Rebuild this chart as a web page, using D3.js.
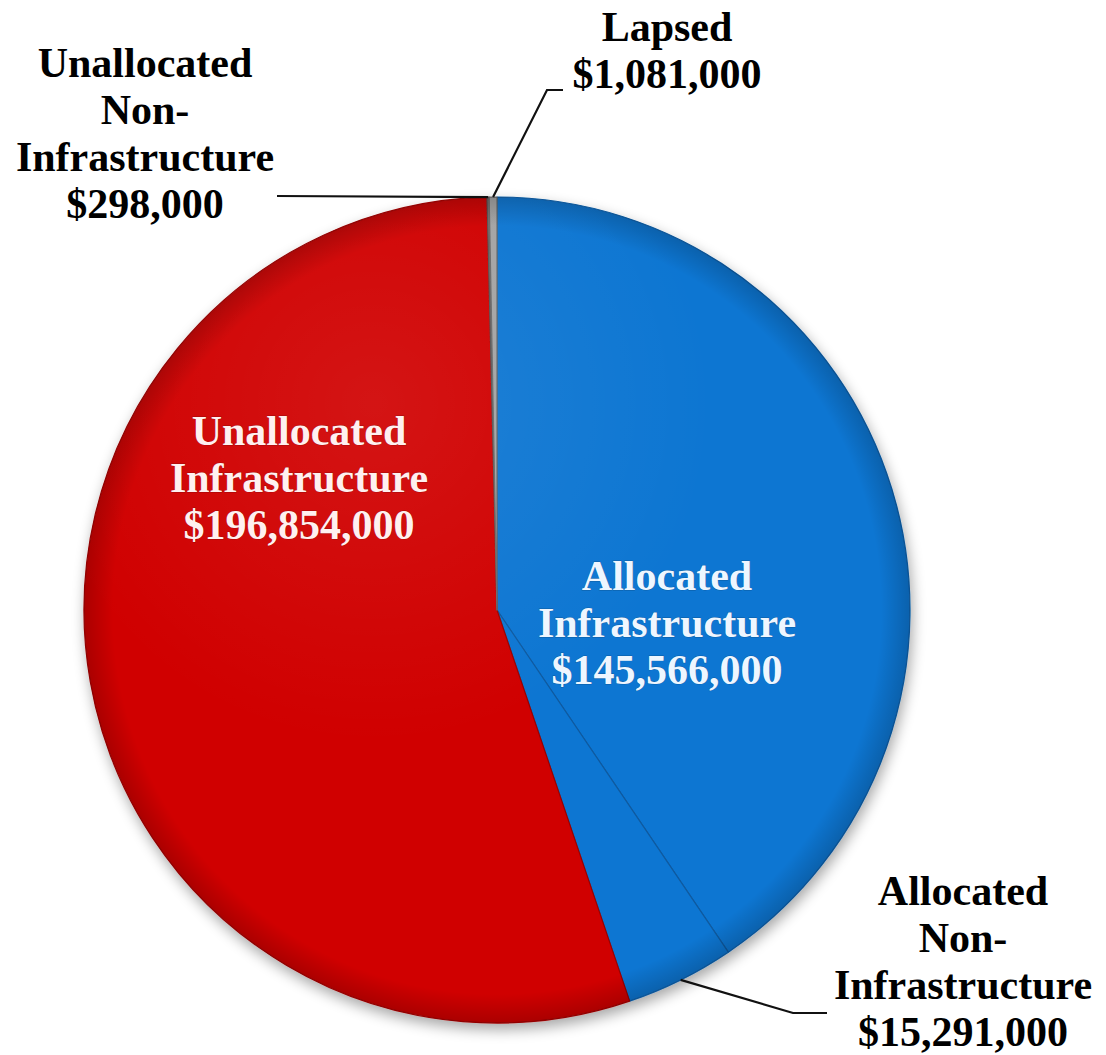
<!DOCTYPE html>
<html>
<head>
<meta charset="utf-8">
<script src="https://cdn.jsdelivr.net/npm/d3@7"></script>
<style>
  html, body { margin: 0; padding: 0; background: #ffffff; }
  svg { display: block; }
  text { font-family: "Liberation Serif", "Times New Roman", serif; font-weight: bold; }
</style>
</head>
<body>
<svg id="chart" width="1106" height="1055"></svg>
<script>
// Funding status, clockwise from 12 o'clock
const categories = [
  "Allocated Infrastructure",
  "Allocated Non-Infrastructure",
  "Unallocated Infrastructure",
  "Unallocated Non-Infrastructure",
  "Lapsed"
];
const labelLines = [
  ["Allocated", "Infrastructure"],
  ["Allocated", "Non-", "Infrastructure"],
  ["Unallocated", "Infrastructure"],
  ["Unallocated", "Non-", "Infrastructure"],
  ["Lapsed"]
];
const amounts = [145566000, 15291000, 196854000, 298000, 1081000];

// Slice fills
const sliceColors = ["#0c76d2", "#0c76d2", "#d00000", "#7a6f6f", "#a3a3a3"];
const sliceEdges  = ["#0a5aa0", "#0a5aa0", "#9c0000", "#555555", "#6a6a6a"];

const cx = 497, cy = 610, R = 413;
const fontSize = 42, lineH = 47;

// Label placement: inside labels for big slices, leader-line callouts for small ones
const labelLayout = [
  { x: 667, y: 590, fill: "#eef6ff", inside: true },
  { x: 963, y: 905, fill: "#000", leader: [[793, 1013], [827, 1013]] },
  { x: 299, y: 445, fill: "#fff0f0", inside: true },
  { x: 145, y: 77,  fill: "#000", leader: [[277, 196]] },
  { x: 667, y: 41,  fill: "#000", leader: [[547, 90], [563, 90]] }
];

const fmt = d3.format(",");
const svg = d3.select("#chart");
const defs = svg.append("defs");

// soft drop shadow under the pie
const sh = defs.append("filter").attr("id", "shadow")
  .attr("x", "-10%").attr("y", "-10%").attr("width", "120%").attr("height", "125%");
sh.append("feGaussianBlur").attr("in", "SourceAlpha").attr("stdDeviation", 7).attr("result", "b");
sh.append("feOffset").attr("in", "b").attr("dx", 2).attr("dy", 6).attr("result", "o");
sh.append("feComponentTransfer").attr("in", "o").attr("result", "s")
  .append("feFuncA").attr("type", "linear").attr("slope", 0.35);
const m = sh.append("feMerge");
m.append("feMergeNode").attr("in", "s");
m.append("feMergeNode").attr("in", "SourceGraphic");

// glossy highlight toward the upper-left
const hl = defs.append("radialGradient").attr("id", "hilite")
  .attr("cx", "35%").attr("cy", "25%").attr("r", "75%");
hl.append("stop").attr("offset", "0%").attr("stop-color", "#ffffff").attr("stop-opacity", 0.08);
hl.append("stop").attr("offset", "55%").attr("stop-color", "#ffffff").attr("stop-opacity", 0.0);
hl.append("stop").attr("offset", "100%").attr("stop-color", "#000000").attr("stop-opacity", 0.0);

// darker rim
const rim = defs.append("radialGradient").attr("id", "rim")
  .attr("cx", "50%").attr("cy", "50%").attr("r", "50%");
rim.append("stop").attr("offset", "0%").attr("stop-color", "#000").attr("stop-opacity", 0);
rim.append("stop").attr("offset", "93%").attr("stop-color", "#000").attr("stop-opacity", 0);
rim.append("stop").attr("offset", "100%").attr("stop-color", "#000").attr("stop-opacity", 0.18);

const pie = d3.pie().sort(null).value(d => d)
  .startAngle(0).endAngle(2 * Math.PI);
const arcs = pie(amounts);
const arc = d3.arc().innerRadius(0).outerRadius(R);

const g = svg.append("g").attr("transform", `translate(${cx},${cy})`);
const pieG = g.append("g").attr("filter", "url(#shadow)");

pieG.selectAll("path.slice")
  .data(arcs)
  .join("path")
  .attr("class", "slice")
  .attr("d", arc)
  .attr("fill", (d, i) => sliceColors[i])
  .attr("stroke", (d, i) => sliceEdges[i])
  .attr("stroke-width", 1.2)
  .attr("stroke-linejoin", "round");

// shading overlays
g.append("circle").attr("r", R).attr("fill", "url(#hilite)").attr("pointer-events", "none");
g.append("circle").attr("r", R).attr("fill", "url(#rim)").attr("pointer-events", "none");

// leader lines start on the rim at each slice's mid angle
const rimPoint = d => {
  const a = (d.startAngle + d.endAngle) / 2;
  return [cx + R * Math.sin(a), cy - R * Math.cos(a)];
};

arcs.forEach((d, i) => {
  const L = labelLayout[i];
  if (!L.leader) return;
  const pts = [rimPoint(d), ...L.leader];
  svg.append("path")
    .attr("d", d3.line()(pts))
    .attr("fill", "none")
    .attr("stroke", "#111")
    .attr("stroke-width", 2.2);
});

// labels
arcs.forEach((d, i) => {
  const L = labelLayout[i];
  const lines = [...labelLines[i], "$" + fmt(amounts[i])];
  const t = svg.append("text")
    .attr("text-anchor", "middle")
    .attr("font-size", fontSize)
    .attr("fill", L.fill);
  if (L.inside) {
    t.attr("stroke", "rgba(0,0,0,0.25)").attr("stroke-width", 0.8)
     .attr("paint-order", "stroke");
  }
  lines.forEach((s, k) => {
    t.append("tspan").attr("x", L.x).attr("y", L.y + k * lineH).text(s);
  });
});
</script>
</body>
</html>
